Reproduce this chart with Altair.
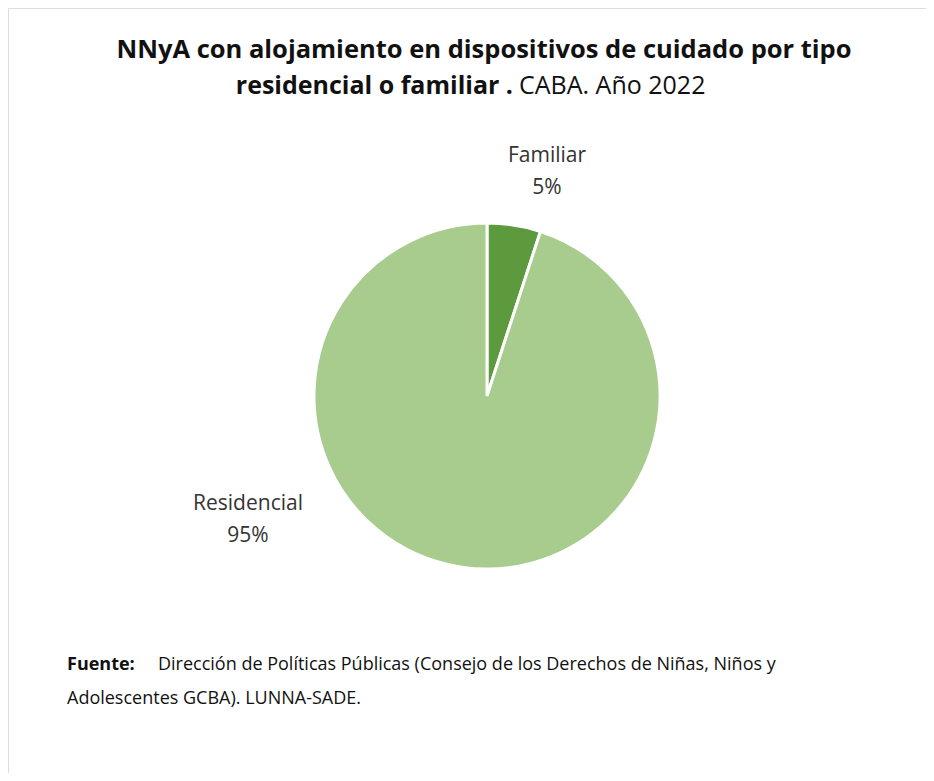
import altair as alt
import pandas as pd

categories = ["Familiar", "Residencial"]
shares = [5, 95]
colors = ["#5d9a3e", "#a8cb8e"]
labels_pct = ["5%", "95%"]

title_line1 = "NNyA con alojamiento en dispositivos de cuidado por tipo"
title_line2_bold = "residencial o familiar ."
title_line2_norm = "CABA. Año 2022"
source_bold = "Fuente:"
source_line1 = "Dirección de Políticas Públicas (Consejo de los Derechos de Niñas, Niños y"
source_line2 = "Adolescentes GCBA). LUNNA-SADE."

df = pd.DataFrame({"cat": categories, "share": shares, "order": [0, 1]})

FONT = "Open Sans"
W, H = 918, 765
CX, CY = 479, 388

pie = alt.Chart(df).mark_arc(radius=173, stroke="white", strokeWidth=3).encode(
    theta=alt.Theta("share:Q", stack=True),
    order=alt.Order("order:Q"),
    color=alt.Color("cat:N", scale=alt.Scale(domain=categories, range=colors), legend=None),
    x=alt.value(CX),
    y=alt.value(CY),
)

def txt(text, x, y, size, bold=False, align="center", color="#222222"):
    return alt.Chart(pd.DataFrame({"t": [text]})).mark_text(
        font=FONT, fontSize=size, fontWeight="bold" if bold else "normal",
        align=align, baseline="middle", color=color,
    ).encode(text="t:N", x=alt.value(x), y=alt.value(y))

layers = [
    pie,
    txt(title_line1, 476, 42, 25.5, bold=True, color="#111111"),
    txt(title_line2_bold, 505, 78, 25, bold=True, align="right", color="#111111"),
    txt(title_line2_norm, 511, 78, 25, align="left", color="#111111"),
    txt(categories[0], 539, 148, 21, color="#333333"),
    txt(labels_pct[0], 539, 180, 21, color="#333333"),
    txt(categories[1], 240, 496, 21, color="#333333"),
    txt(labels_pct[1], 240, 528, 21, color="#333333"),
    txt(source_bold, 59, 657, 18, bold=True, align="left", color="#111111"),
    txt(source_line1, 150, 657, 18, align="left", color="#111111"),
    txt(source_line2, 59, 691, 18, align="left", color="#111111"),
]

chart = alt.layer(*layers).properties(
    width=W, height=H,
    autosize=alt.AutoSizeParams(type="fit", contains="padding"),
    padding=0,
).configure_view(stroke="#dddddd", strokeDash=[3, 3], strokeWidth=1).configure(background="white")

chart.save("out.html", embed_options={"renderer": "svg", "actions": False})
